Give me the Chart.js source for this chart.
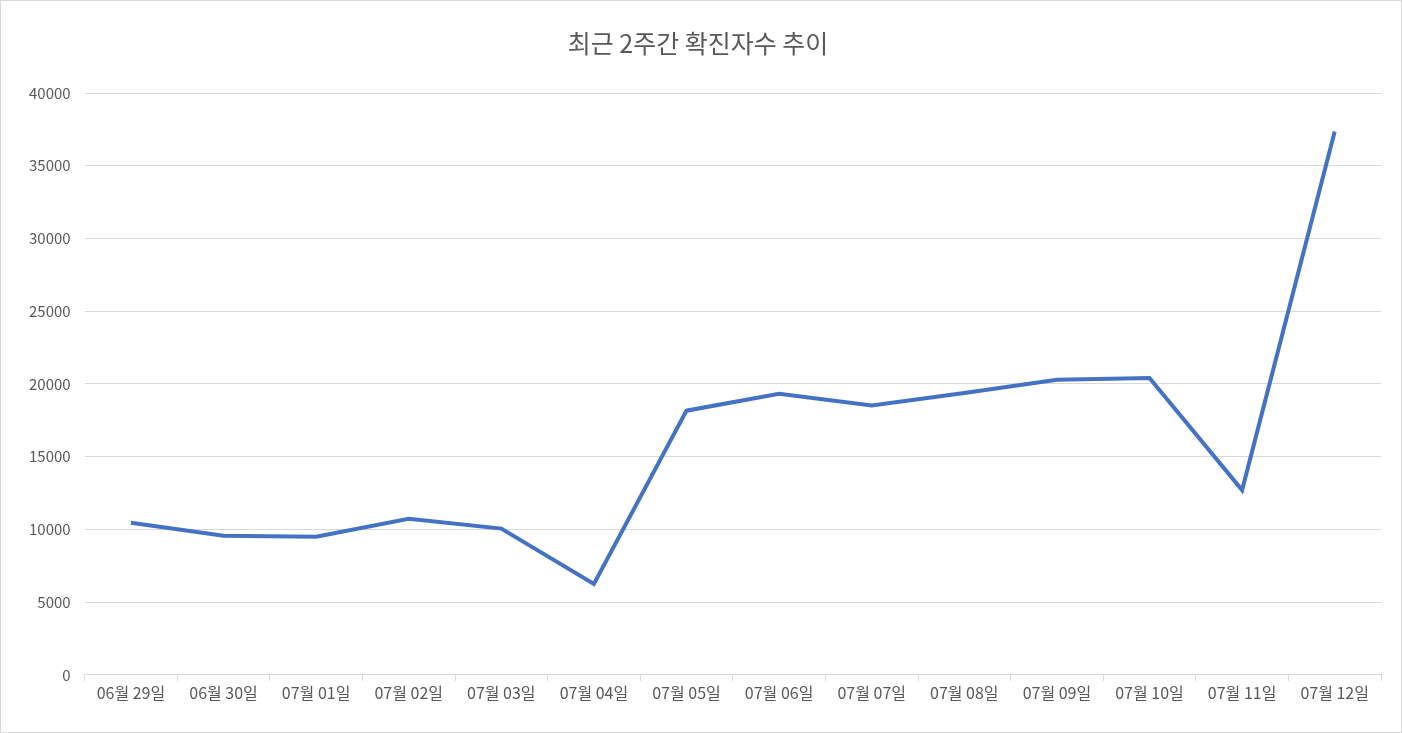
<!DOCTYPE html>
<html><head><meta charset="utf-8">
<script src="https://cdn.jsdelivr.net/npm/chart.js@4/dist/chart.umd.min.js"></script>
<style>html,body{margin:0;padding:0;background:#fff}#w{position:absolute;left:0;top:0;width:1400px;height:731px;border:1px solid #d9d9d9}</style>
</head><body><div id="w"><canvas id="c"></canvas></div>
<script>
const categories=["06월 29일","06월 30일","07월 01일","07월 02일","07월 03일","07월 04일","07월 05일","07월 06일","07월 07일","07월 08일","07월 09일","07월 10일","07월 11일","07월 12일"];
const cases=[10450,9560,9490,10720,10050,6250,18160,19320,18510,19370,20280,20410,12700,37360];
const yMax=40000, yStep=5000;
const font="'Malgun Gothic','Noto Sans CJK KR',sans-serif";
new Chart(document.getElementById('c'),{type:'line',
data:{labels:categories,datasets:[{data:cases,borderColor:'#4472c4',borderWidth:4,pointRadius:0,tension:0,fill:false}]},
options:{responsive:true,maintainAspectRatio:false,animation:false,
layout:{padding:{left:14,right:20,top:19,bottom:26}},
plugins:{legend:{display:false},tooltip:{enabled:false},
title:{display:true,text:'최근 2주간 확진자수 추이',color:'#595959',font:{family:font,size:25,weight:'normal'},padding:{top:8,bottom:35}}},
scales:{
x:{offset:true,grid:{offset:true,drawOnChartArea:false,color:'#d9d9d9',tickLength:6},border:{color:'#d9d9d9'},
ticks:{color:'#595959',font:{family:font,size:16},maxRotation:0,autoSkip:false}},
y:{min:0,max:yMax,ticks:{stepSize:yStep,color:'#595959',font:{family:font,size:15},padding:14,callback:v=>String(v)},
grid:{color:'#d9d9d9',drawTicks:false},border:{display:false}}}}});
</script></body></html>
